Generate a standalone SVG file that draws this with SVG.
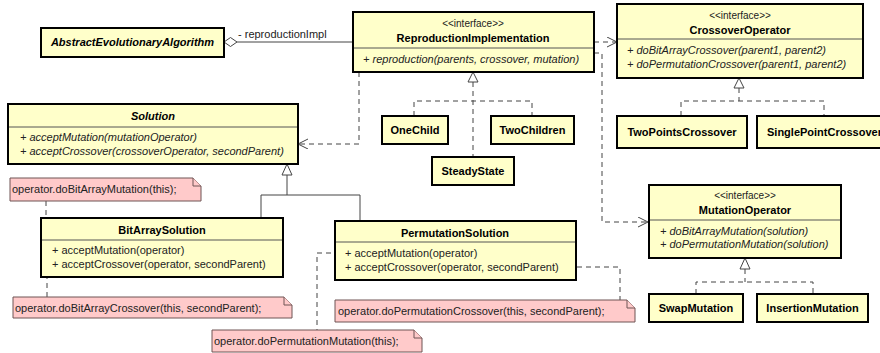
<svg xmlns="http://www.w3.org/2000/svg" width="880" height="353" viewBox="0 0 880 353">
  <style>
    .box { fill: #ffffca; stroke: #000; stroke-width: 2; }
    .div { stroke: #555; stroke-width: 1; }
    .note { fill: #ffcaca; stroke: #6e5555; stroke-width: 1; }
    .t { font-family: "Liberation Sans", Arial, sans-serif; font-size: 11px; fill: #222; }
    .name { font-weight: bold; fill: #000; text-anchor: middle; }
    .abs { font-style: italic; }
    .st { font-size: 10px; text-anchor: middle; }
    .it { font-style: italic; }
    .nt { font-family: "Liberation Sans", Arial, sans-serif; font-size: 11px; fill: #222; }
    .solid { fill: none; stroke: #444; stroke-width: 1; }
    .dash { fill: none; stroke: #444; stroke-width: 1; stroke-dasharray: 5 4; }
    .tri { fill: #fff; stroke: #444; stroke-width: 1; }
    .open { fill: none; stroke: #444; stroke-width: 1; }
  </style>
  <defs>
    <marker id="openArrow" markerWidth="12" markerHeight="12" refX="10" refY="5" orient="auto" markerUnits="userSpaceOnUse">
      <path d="M0,0 L10,5 L0,10" class="open"/>
    </marker>
  </defs>

  <rect width="880" height="353" fill="#fff"/>

  <!-- connectors -->
  <g id="connectors">
    <!-- aggregation -->
    <path d="M237,42 H353" class="solid"/>
    <polygon points="224,42 230.5,37.5 237,42 230.5,46.5" class="tri"/>
    <text x="238" y="38" class="t">- reproductionImpl</text>

    <!-- ReproductionImplementation realizations -->
    <path d="M473,82 V157 M414,116 V101 H532 V116" class="dash"/>
    <polygon points="473,72 468,82 478,82" class="tri"/>

    <!-- CrossoverOperator realizations -->
    <path d="M739,88 V101 M681,116 V101 H824 V116" class="dash"/>
    <polygon points="739,78 734,88 744,88" class="tri"/>

    <!-- MutationOperator realizations -->
    <path d="M745,269 V282 M696,294 V282 H813 V294" class="dash"/>
    <polygon points="745,258 740,269 750,269" class="tri"/>

    <!-- Solution generalizations -->
    <path d="M287,175 V195 M261,218 V195 H360 V221" class="solid"/>
    <polygon points="287,164 282,175 292,175" class="tri"/>

    <!-- dependencies -->
    <path d="M359,72 V144 H298" class="dash" marker-end="url(#openArrow)"/>
    <path d="M594,42 H617" class="dash" marker-end="url(#openArrow)"/>
    <path d="M594,53 H602 V222 H648" class="dash" marker-end="url(#openArrow)"/>

    <!-- note anchors -->
    <path d="M46,201 V250 M47,265 V297" class="dash"/>
    <path d="M340,253 H317 V330" class="dash"/>
    <path d="M568,267 H620 V300" class="dash"/>
    <circle cx="47" cy="250" r="2" fill="#000"/>
    <circle cx="47" cy="265" r="2" fill="#000"/>
    <circle cx="340" cy="253" r="2" fill="#000"/>
    <circle cx="568" cy="267" r="2" fill="#000"/>
  </g>

  <!-- classes -->
  <g id="AbstractEvolutionaryAlgorithm">
    <rect x="41" y="28" width="183" height="29" class="box"/>
    <text x="132.5" y="46" class="t name abs">AbstractEvolutionaryAlgorithm</text>
  </g>

  <g id="ReproductionImplementation">
    <rect x="353" y="12" width="241" height="60" class="box"/>
    <line x1="354" y1="48" x2="593" y2="48" class="div"/>
    <text x="473" y="27" class="t st">&lt;&lt;interface&gt;&gt;</text>
    <text x="473" y="42" class="t name">ReproductionImplementation</text>
    <text x="363" y="63" class="t it">+ reproduction(parents, crossover, mutation)</text>
  </g>

  <g id="OneChild">
    <rect x="382" y="116" width="66" height="28" class="box"/>
    <text x="415" y="134" class="t name">OneChild</text>
  </g>
  <g id="TwoChildren">
    <rect x="491" y="116" width="83" height="28" class="box"/>
    <text x="532.5" y="134" class="t name">TwoChildren</text>
  </g>
  <g id="SteadyState">
    <rect x="432" y="157" width="82" height="28" class="box"/>
    <text x="473" y="175" class="t name">SteadyState</text>
  </g>

  <g id="CrossoverOperator">
    <rect x="617" y="4" width="246" height="74" class="box"/>
    <line x1="618" y1="39" x2="862" y2="39" class="div"/>
    <text x="740" y="19" class="t st">&lt;&lt;interface&gt;&gt;</text>
    <text x="740" y="34" class="t name">CrossoverOperator</text>
    <text x="627" y="54" class="t it">+ doBitArrayCrossover(parent1, parent2)</text>
    <text x="627" y="68" class="t it">+ doPermutationCrossover(parent1, parent2)</text>
  </g>

  <g id="TwoPointsCrossover">
    <rect x="617" y="116" width="130" height="32" class="box"/>
    <text x="682" y="136" class="t name">TwoPointsCrossover</text>
  </g>
  <g id="SinglePointCrossover">
    <rect x="757" y="116" width="140" height="32" class="box"/>
    <text x="767" y="136" class="t name" style="text-anchor:start">SinglePointCrossover</text>
  </g>

  <g id="Solution">
    <rect x="8" y="104" width="290" height="60" class="box"/>
    <line x1="9" y1="127" x2="297" y2="127" class="div"/>
    <text x="153" y="120" class="t name abs">Solution</text>
    <text x="20" y="141" class="t it">+ acceptMutation(mutationOperator)</text>
    <text x="20" y="155" class="t it">+ acceptCrossover(crossoverOperator, secondParent)</text>
  </g>

  <g id="BitArraySolution">
    <rect x="41" y="218" width="242" height="59" class="box"/>
    <line x1="42" y1="240" x2="282" y2="240" class="div"/>
    <text x="162" y="234" class="t name">BitArraySolution</text>
    <text x="52" y="254" class="t">+ acceptMutation(operator)</text>
    <text x="52" y="268" class="t">+ acceptCrossover(operator, secondParent)</text>
  </g>

  <g id="PermutationSolution">
    <rect x="335" y="221" width="241" height="59" class="box"/>
    <line x1="336" y1="242" x2="575" y2="242" class="div"/>
    <text x="455" y="237" class="t name">PermutationSolution</text>
    <text x="345" y="257" class="t">+ acceptMutation(operator)</text>
    <text x="345" y="271" class="t">+ acceptCrossover(operator, secondParent)</text>
  </g>

  <g id="MutationOperator">
    <rect x="649" y="185" width="192" height="73" class="box"/>
    <line x1="650" y1="220" x2="840" y2="220" class="div"/>
    <text x="745" y="199" class="t st">&lt;&lt;interface&gt;&gt;</text>
    <text x="745" y="214" class="t name">MutationOperator</text>
    <text x="660" y="235" class="t it">+ doBitArrayMutation(solution)</text>
    <text x="660" y="248" class="t it">+ doPermutationMutation(solution)</text>
  </g>

  <g id="SwapMutation">
    <rect x="649" y="294" width="94" height="28" class="box"/>
    <text x="696" y="312" class="t name">SwapMutation</text>
  </g>
  <g id="InsertionMutation">
    <rect x="757" y="294" width="111" height="28" class="box"/>
    <text x="812.5" y="312" class="t name">InsertionMutation</text>
  </g>

  <!-- notes -->
  <g id="noteBitArrayMutation">
    <path d="M10,178 H193 L201,186 V201 H10 Z" class="note"/>
    <path d="M193,178 V186 H201" class="note"/>
    <text x="12" y="193" class="nt">operator.doBitArrayMutation(this);</text>
  </g>
  <g id="noteBitArrayCrossover">
    <path d="M13,297 H284 L292,305 V318 H13 Z" class="note"/>
    <path d="M284,297 V305 H292" class="note"/>
    <text x="15" y="312" class="nt">operator.doBitArrayCrossover(this, secondParent);</text>
  </g>
  <g id="notePermutationMutation">
    <path d="M212,330 H414 L422,338 V352 H212 Z" class="note"/>
    <path d="M414,330 V338 H422" class="note"/>
    <text x="214" y="345" class="nt">operator.doPermutationMutation(this);</text>
  </g>
  <g id="notePermutationCrossover">
    <path d="M335,300 H627 L635,308 V322 H335 Z" class="note"/>
    <path d="M627,300 V308 H635" class="note"/>
    <text x="338" y="315" class="nt">operator.doPermutationCrossover(this, secondParent);</text>
  </g>
</svg>
